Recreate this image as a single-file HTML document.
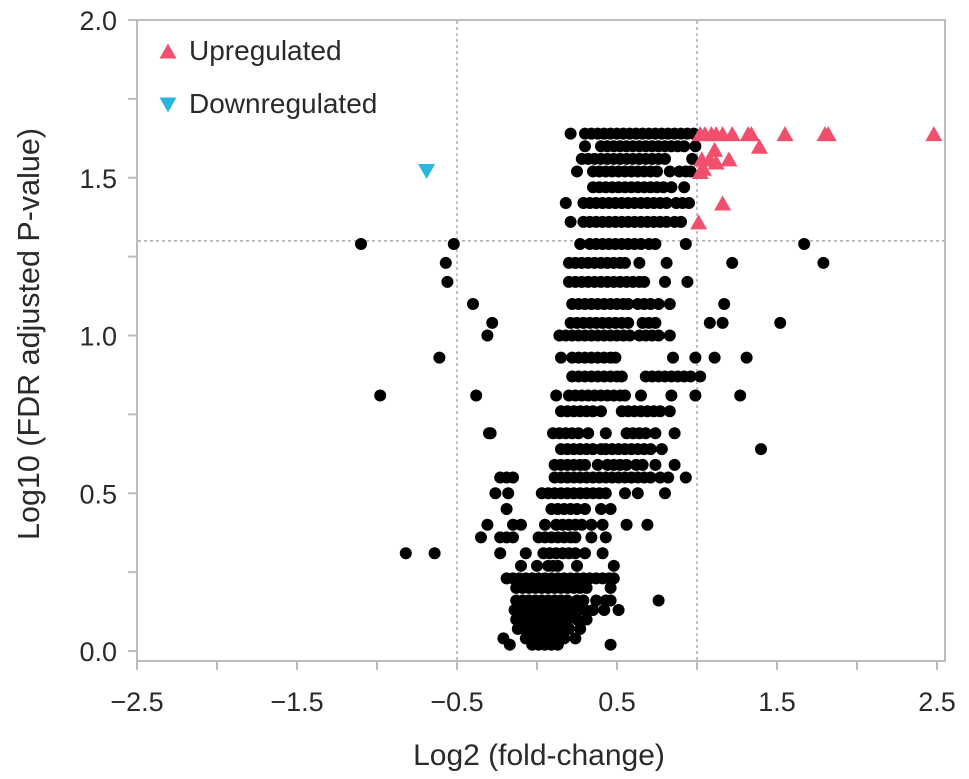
<!DOCTYPE html>
<html><head><meta charset="utf-8"><style>
body{margin:0;background:#fff;}
svg{display:block;font-family:"Liberation Sans",sans-serif;}
</style></head><body>
<svg id="chart" width="969" height="779" viewBox="0 0 969 779" xmlns="http://www.w3.org/2000/svg"></svg>
<script>
// ---- data ----
const xTicks=[-2.5,-1.5,-0.5,0.5,1.5,2.5];
const yTicks=[0.0,0.5,1.0,1.5,2.0];
const thresholdX=[-0.5,1.0];
const thresholdY=[1.3];
// rows of non-significant points: y level and the x values in that row
const rowY=[1.64,1.60,1.56,1.52,1.47,1.42,1.36,1.29,1.23,1.17,1.10,1.04,1.00,0.93,0.87,0.81,0.76,0.69,0.64,0.59,0.55,0.50,0.45,0.40,0.36,0.31,0.27,0.23,0.20,0.16,0.13,0.10,0.07,0.04,0.02];
const rowX=[
[0.21,0.30,0.34,0.38,0.42,0.46,0.50,0.54,0.58,0.62,0.66,0.70,0.74,0.78,0.82,0.86,0.90,0.94,0.98],
[0.30,0.40,0.44,0.48,0.52,0.56,0.60,0.64,0.68,0.72,0.76,0.80,0.84,0.88,0.92,0.99],
[0.28,0.32,0.36,0.40,0.44,0.48,0.52,0.56,0.60,0.64,0.68,0.72,0.76,0.80,0.97],
[0.25,0.35,0.39,0.43,0.47,0.51,0.55,0.59,0.63,0.67,0.71,0.75,0.83,0.89,0.93,0.96],
[0.35,0.39,0.43,0.47,0.51,0.55,0.59,0.63,0.67,0.71,0.75,0.79,0.84,0.92],
[0.18,0.29,0.33,0.37,0.41,0.45,0.49,0.53,0.57,0.61,0.65,0.69,0.73,0.77,0.81,0.87,0.91,0.95],
[0.21,0.29,0.33,0.37,0.41,0.45,0.49,0.53,0.57,0.61,0.65,0.69,0.73,0.77,0.81,0.86,0.90],
[-1.10,-0.52,0.27,0.33,0.37,0.41,0.45,0.49,0.53,0.57,0.61,0.65,0.70,0.74,0.93,1.67],
[-0.57,0.20,0.24,0.28,0.32,0.36,0.40,0.44,0.48,0.52,0.55,0.64,0.81,1.22,1.79],
[-0.56,0.20,0.24,0.28,0.32,0.36,0.40,0.44,0.48,0.52,0.56,0.60,0.64,0.67,0.80,0.94],
[-0.40,0.22,0.26,0.30,0.34,0.38,0.42,0.46,0.50,0.54,0.57,0.63,0.67,0.71,0.76,0.83,1.17],
[-0.28,0.21,0.25,0.29,0.33,0.37,0.41,0.45,0.49,0.53,0.57,0.66,0.70,0.74,1.08,1.16,1.52],
[-0.31,0.14,0.18,0.22,0.26,0.30,0.34,0.38,0.42,0.46,0.50,0.54,0.58,0.64,0.68,0.72,0.76,0.83],
[-0.61,0.15,0.22,0.26,0.30,0.34,0.38,0.42,0.46,0.49,0.85,0.99,1.11,1.31],
[0.22,0.26,0.30,0.34,0.38,0.42,0.46,0.50,0.53,0.68,0.72,0.76,0.80,0.84,0.88,0.92,0.96,1.02],
[-0.98,-0.38,0.12,0.20,0.24,0.28,0.32,0.36,0.40,0.44,0.48,0.52,0.55,0.65,0.84,0.99,1.27],
[0.15,0.19,0.23,0.27,0.31,0.35,0.40,0.53,0.57,0.61,0.65,0.69,0.73,0.77,0.83],
[-0.30,-0.29,0.10,0.14,0.18,0.22,0.26,0.32,0.43,0.56,0.60,0.64,0.68,0.74,0.86],
[0.15,0.19,0.23,0.27,0.31,0.35,0.40,0.43,0.47,0.51,0.55,0.59,0.63,0.67,0.71,0.78,1.40],
[0.11,0.15,0.19,0.23,0.27,0.30,0.38,0.44,0.48,0.52,0.56,0.62,0.66,0.74,0.86],
[-0.23,-0.19,-0.15,0.11,0.15,0.19,0.23,0.27,0.31,0.35,0.39,0.43,0.47,0.51,0.55,0.59,0.63,0.67,0.71,0.77,0.82,0.93],
[-0.26,-0.18,0.03,0.07,0.11,0.15,0.19,0.23,0.27,0.31,0.35,0.39,0.43,0.55,0.63,0.80],
[-0.19,0.09,0.13,0.17,0.21,0.25,0.30,0.40,0.46],
[-0.31,-0.15,-0.10,0.05,0.12,0.16,0.20,0.24,0.28,0.34,0.41,0.56,0.69],
[-0.35,-0.23,-0.19,-0.15,0.01,0.05,0.09,0.13,0.17,0.21,0.24,0.34,0.43],
[-0.82,-0.64,-0.23,-0.07,0.04,0.08,0.12,0.16,0.20,0.24,0.30,0.41],
[-0.10,0.00,0.07,0.10,0.13,0.25,0.48],
[-0.19,-0.15,-0.11,-0.07,-0.03,0.01,0.05,0.09,0.13,0.17,0.21,0.25,0.29,0.33,0.37,0.41,0.45,0.48],
[-0.13,-0.09,-0.05,-0.01,0.03,0.07,0.11,0.15,0.19,0.23,0.27,0.31,0.46],
[-0.13,-0.09,-0.05,-0.01,0.03,0.07,0.11,0.15,0.19,0.25,0.29,0.37,0.43,0.46,0.76],
[-0.14,-0.10,-0.06,-0.02,0.02,0.06,0.10,0.14,0.18,0.22,0.26,0.30,0.35,0.42,0.51],
[-0.13,-0.09,-0.05,-0.01,0.03,0.07,0.11,0.15,0.19,0.25,0.31],
[-0.12,-0.08,-0.04,0.00,0.04,0.08,0.12,0.16,0.20,0.27],
[-0.21,-0.07,-0.03,0.01,0.05,0.09,0.13,0.17,0.24],
[-0.17,-0.03,0.01,0.05,0.09,0.13,0.46]
];
const upX=[1.02,1.05,1.09,1.12,1.16,1.22,1.32,1.34,1.55,1.80,1.82,2.48,1.39,1.11,1.08,1.20,1.12,1.03,1.04,1.02,1.16,1.01];
const upY=[1.64,1.64,1.64,1.64,1.64,1.64,1.64,1.64,1.64,1.64,1.64,1.64,1.60,1.59,1.56,1.56,1.55,1.56,1.53,1.52,1.42,1.36];
const downX=[-0.69];
const downY=[1.52];

// ---- scales ----
const X0=137,XS=160,Y0=651,YS=315.5;
const sx=v=>X0+(v+2.5)*XS;
const sy=v=>Y0-v*YS;
const NS="http://www.w3.org/2000/svg";
const svg=document.getElementById('chart');
function mk(tag,attrs,parent){const e=document.createElementNS(NS,tag);for(const k in attrs)e.setAttribute(k,attrs[k]);(parent||svg).appendChild(e);return e;}

// frame
const frame=mk('rect',{x:137,y:20,width:808,height:641,fill:'none',stroke:'#bdbdbd','stroke-width':2});



// threshold lines
thresholdX.forEach(v=>{const l=mk('line',{x1:sx(v),x2:sx(v),y1:21,y2:660,stroke:'#aaa','stroke-width':1.5,'stroke-dasharray':'3,3'});

});
thresholdY.forEach(v=>{const l=mk('line',{x1:138,x2:944,y1:sy(v),y2:sy(v),stroke:'#aaa','stroke-width':1.5,'stroke-dasharray':'3,3'});

});

// x ticks
for(let v=-2.5;v<=2.51;v+=0.5){const t=mk('line',{x1:sx(v),x2:sx(v),y1:661,y2:670,stroke:'#bdbdbd','stroke-width':2});

}
xTicks.forEach(v=>{const t=mk('text',{x:sx(v),y:711,'text-anchor':'middle','font-size':27,fill:'#2a2a2a'});t.textContent=(v<0?'\u2212':'')+Math.abs(v).toFixed(1);

});
// y ticks
for(let v=0;v<=2.001;v+=0.25){const t=mk('line',{x1:128,x2:137,y1:sy(v),y2:sy(v),stroke:'#bdbdbd','stroke-width':2});

}
yTicks.forEach(v=>{const t=mk('text',{x:117,y:sy(v)+10,'text-anchor':'end','font-size':27,fill:'#2a2a2a'});t.textContent=v.toFixed(1);

});

// axis titles
const xt=mk('text',{x:539,y:765,'text-anchor':'middle','font-size':30,fill:'#2a2a2a'});xt.textContent='Log2 (fold-change)';


const yt=mk('text',{x:0,y:0,'text-anchor':'middle','font-size':30.5,fill:'#2a2a2a',transform:'translate(39,334) rotate(-90)'});yt.textContent='Log10 (FDR adjusted P-value)';



// points
rowY.forEach((y,i)=>{rowX[i].forEach(x=>{const c=mk('circle',{cx:sx(x),cy:sy(y),r:6,fill:'#000'});

});});
function tri(cx,cy,up,color){const h=15,w=8.5;const p=up?`${cx-w},${cy+h/2} ${cx+w},${cy+h/2} ${cx},${cy-h/2}`:`${cx-w},${cy-h/2} ${cx+w},${cy-h/2} ${cx},${cy+h/2}`;return mk('polygon',{points:p,fill:color});}
upX.forEach((x,i)=>{const t=tri(sx(x),sy(upY[i]),true,'#f0506e');

});
downX.forEach((x,i)=>{const t=tri(sx(x),sy(downY[i]),false,'#29b6e0');

});

// legend
const lg=mk('g',{});


const t1=tri(168,51,true,'#f0506e');lg.appendChild(t1);


const l1=mk('text',{x:189,y:60,'font-size':28,fill:'#2a2a2a'},lg);l1.textContent='Upregulated';


const t2=tri(168,105,false,'#29b6e0');lg.appendChild(t2);


const l2=mk('text',{x:189,y:113,'font-size':28,fill:'#2a2a2a'},lg);l2.textContent='Downregulated';


</script>
</body></html>
